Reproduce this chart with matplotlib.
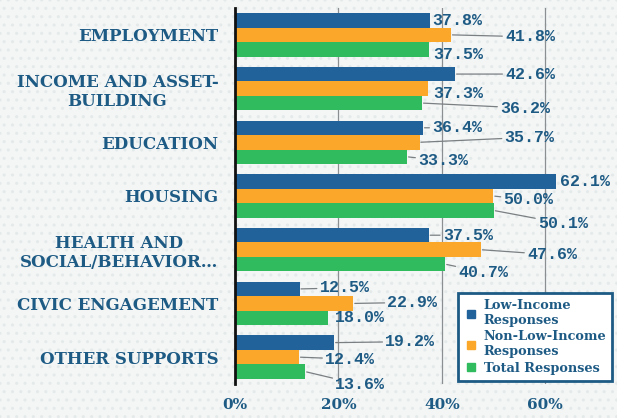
import matplotlib
matplotlib.use("Agg")
import matplotlib.pyplot as plt
from matplotlib.patches import Rectangle
from matplotlib.lines import Line2D
import numpy as np

# --- DATA ---
categories = ["EMPLOYMENT", "INCOME AND ASSET-\nBUILDING", "EDUCATION", "HOUSING",
              "HEALTH AND\nSOCIAL/BEHAVIOR\u2026", "CIVIC ENGAGEMENT", "OTHER SUPPORTS"]
low_income = [37.8, 42.6, 36.4, 62.1, 37.5, 12.5, 19.2]
non_low_income = [41.8, 37.3, 35.7, 50.0, 47.6, 22.9, 12.4]
total = [37.5, 36.2, 33.3, 50.1, 40.7, 18.0, 13.6]
series_names = ["Low-Income\nResponses", "Non-Low-Income\nResponses", "Total Responses"]
x_ticks = [0, 20, 40, 60]

# --- STYLE / LAYOUT ---
COLORS = ["#22629b", "#fba72a", "#2fbb5e"]
TEXT = "#1d5a84"
BG = "#f4f6f6"
BAR_H = 0.27
# label offsets from bar end (pixels): [blue, orange, green] per category
LABEL_DX = [[2, 54, 4], [50, 5, 78], [9, 85, 11], [4, 10, 44],
            [14, 46, 13], [20, 34, 7], [51, 26, 30]]
LABEL_DY = [[0, 2, 5], [0, 5, 5], [0, -5, 4], [0, 4, 13],
            [0, 5, 8], [-1, -1, 0], [-1, 2, 13]]

fig = plt.figure(figsize=(6.17, 4.18), dpi=100, facecolor=BG)
# dotted paper background
fig.patches.append(Rectangle((0, 0), 1, 1, transform=fig.transFigure, facecolor=BG,
                             edgecolor="#e4e9e9", hatch="..", lw=0, zorder=-10))
ax = fig.add_axes([235 / 617, 1 - 384 / 418, 1 - 235 / 617, 376 / 418])
ax.set_facecolor("none")

y = np.arange(len(categories))
series = [low_income, non_low_income, total]
for i, vals in enumerate(series):
    ax.barh(y + (i - 1) * BAR_H, vals, height=BAR_H, color=COLORS[i],
            label=series_names[i], zorder=3)

ax.set_ylim(len(categories) - 0.5, -0.5)
ax.set_xlim(0, 73.9)

# value labels with leader lines
px = 72 / fig.dpi
for i, vals in enumerate(series):
    for j, v in enumerate(vals):
        dx = LABEL_DX[j][i]
        dy = LABEL_DY[j][i]
        ax.annotate(f"{v:.1f}%", xy=(v, j + (i - 1) * BAR_H),
                    xytext=(dx * px, -dy * px), textcoords="offset points",
                    ha="left", va="center", fontsize=12, fontweight="bold",
                    family="Liberation Mono", color=TEXT, zorder=5,
                    arrowprops=dict(arrowstyle="-", color="#7a7f82", lw=0.9,
                                    shrinkA=0, shrinkB=1) if dx > 8 else None)

ax.set_yticks(y)
ax.set_yticklabels(categories, fontsize=12, fontweight="bold", family="DejaVu Serif",
                   color=TEXT, multialignment="center")
ax.set_xticks(x_ticks)
ax.set_xticklabels([f"{t}%" for t in x_ticks], fontsize=11, fontweight="bold",
                   family="DejaVu Serif", color=TEXT)
ax.tick_params(axis="both", length=0)
ax.tick_params(axis="y", pad=12)
ax.tick_params(axis="x", pad=10)

for t in x_ticks[1:]:
    ax.axvline(t, color="#8c8f91", lw=0.9, zorder=1)

for s in ["top", "right", "bottom"]:
    ax.spines[s].set_visible(False)
ax.spines["left"].set_color("#111111")
ax.spines["left"].set_linewidth(2)
ax.spines["left"].set_zorder(6)

handles = [Line2D([], [], marker="s", ls="none", color=c, markersize=6) for c in COLORS]
leg = fig.legend(handles, series_names, loc="upper left",
                 bbox_to_anchor=(452 / 617, 1 - 287 / 418), frameon=True, fancybox=False,
                 prop={"family": "DejaVu Serif", "weight": "bold", "size": 9.3},
                 handletextpad=0.5, labelspacing=0.25, borderpad=0.45, handlelength=1.0)
leg.get_frame().set_edgecolor(TEXT)
leg.get_frame().set_linewidth(2)
leg.get_frame().set_facecolor("white")
leg.get_frame().set_alpha(1)
for t in leg.get_texts():
    t.set_color(TEXT)

fig.savefig("out.png", dpi=100, facecolor=BG)
